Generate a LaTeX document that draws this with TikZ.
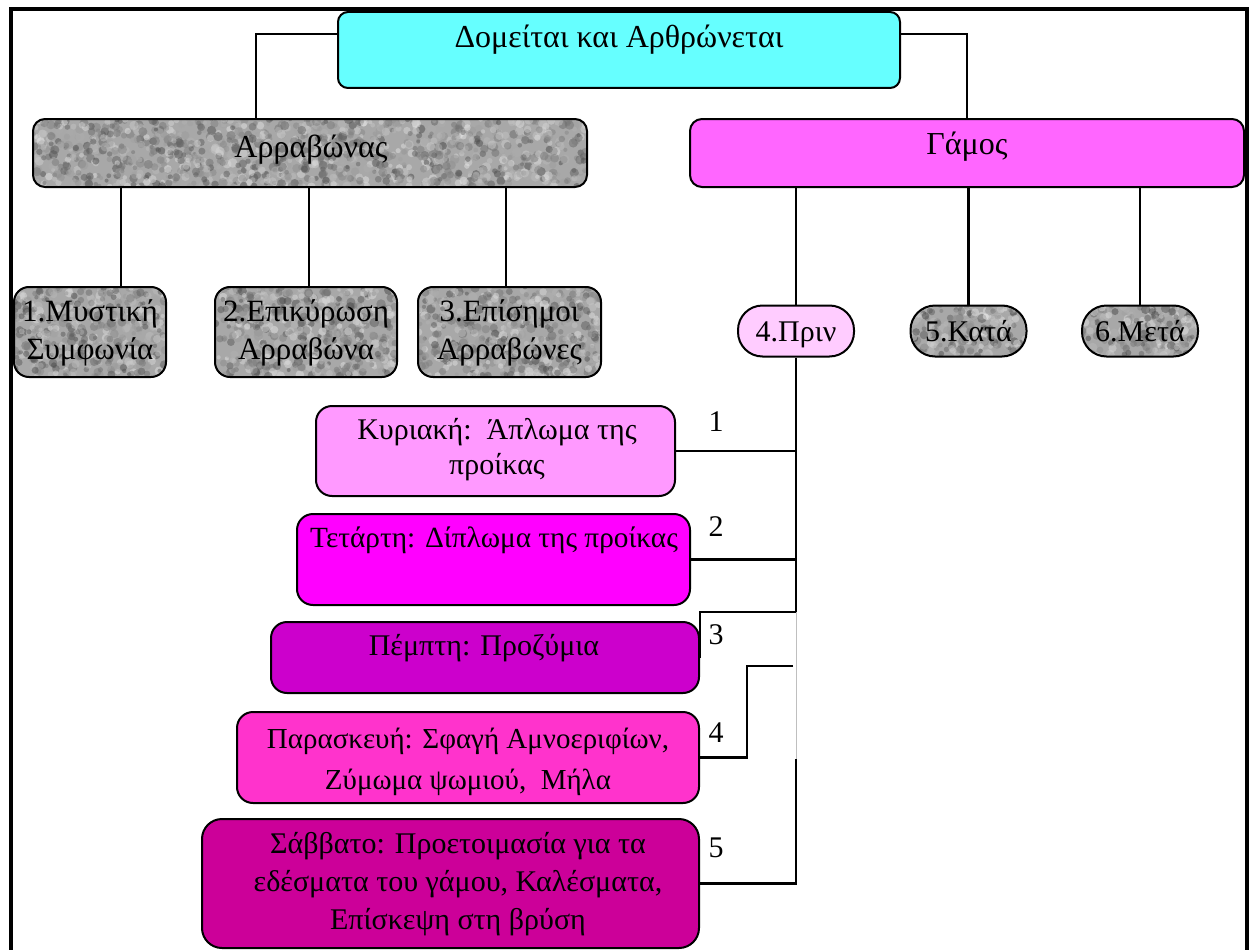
\documentclass[tikz,border=0pt]{standalone}
\usepackage{fontspec}
\setmainfont{Liberation Serif}
\usetikzlibrary{calc}

\definecolor{cyanbox}{HTML}{66FFFF}
\definecolor{gamosbox}{HTML}{FF66FF}
\definecolor{prinbox}{HTML}{FFCCFF}
\definecolor{sunbox}{HTML}{FF99FF}
\definecolor{wedbox}{HTML}{FF00FF}
\definecolor{thubox}{HTML}{CC00CC}
\definecolor{fribox}{HTML}{FF33CC}
\definecolor{satbox}{HTML}{CC0099}
\definecolor{granitebase}{HTML}{A8A8A8}

% speckled grey fill, clipped to the node outline
\newcommand\granitefill{%
  \pgfpointanchor{path picture bounding box}{south west}\pgfgetlastxy{\gxa}{\gya}%
  \pgfpointanchor{path picture bounding box}{north east}\pgfgetlastxy{\gxb}{\gyb}%
  \pgfmathtruncatemacro\gn{((\gxb-\gxa)/30)*(\gyb-\gya)}%
  \foreach \gi in {1,...,\gn}{%
    \pgfmathsetmacro\gpx{\gxa+rnd*(\gxb-\gxa)}%
    \pgfmathsetmacro\gpy{\gya+rnd*(\gyb-\gya)}%
    \pgfmathtruncatemacro\gshade{10+rnd*62}%
    \pgfmathsetmacro\grad{2+rnd*2.8}%
    \fill[black!\gshade!white, opacity=0.5] (\gpx pt,\gpy pt) circle (\grad pt);
  }%
}

\begin{document}
\begin{tikzpicture}[x=1pt,y=-1pt,
  box/.style={draw=black, line width=2pt, rounded corners=#1, inner sep=0pt},
  box/.default=14pt,
  granite/.style={fill=granitebase, path picture={\granitefill}},
  txt/.style={font=\fontsize{30}{38}\selectfont, inner sep=0pt, align=center},
  bigtxt/.style={txt, font=\fontsize{32}{38}\selectfont},
  midtxt/.style={txt, font=\fontsize{31}{38}\selectfont},
  num/.style={font=\fontsize{30}{36}\selectfont, inner sep=0pt},
  link/.style={draw=black, line width=2.7pt},
  faint/.style={draw=black!25, line width=1pt}]
\pgfmathsetseed{7}
\useasboundingbox (0,0) rectangle (1256,950);

% outer frame (open at the bottom)
\draw[line width=3.5pt] (11,960) -- (11,9) -- (1247,9) -- (1247,960);

% boxes
\node[box=10pt, fill=cyanbox, minimum width=562pt, minimum height=76pt] (top) at (619,50) {};
\node[box=12pt, granite, minimum width=554pt, minimum height=68pt] (arr) at (310,153) {};
\node[box=12pt, fill=gamosbox, minimum width=554pt, minimum height=68pt] (gam) at (967,153) {};

\node[box=15pt, granite, minimum width=152pt, minimum height=90pt] (b1) at (90,332) {};
\node[box=15pt, granite, minimum width=182pt, minimum height=90pt] (b2) at (306,332) {};
\node[box=15pt, granite, minimum width=183pt, minimum height=90pt] (b3) at (509.5,332) {};

\node[box=24.5pt, fill=prinbox, minimum width=116pt, minimum height=51pt] (p4) at (796,331) {};
\node[box=24.5pt, granite, minimum width=116pt, minimum height=51pt] (p5) at (968.5,331) {};
\node[box=24.5pt, granite, minimum width=116pt, minimum height=51pt] (p6) at (1140,331) {};

\node[box=16pt, fill=sunbox, minimum width=359pt, minimum height=90pt] (q1) at (495.5,451) {};
\node[box=16pt, fill=wedbox, minimum width=393pt, minimum height=91pt] (q2) at (493.5,559.5) {};
\node[box=16pt, fill=thubox, minimum width=428pt, minimum height=71pt] (q3) at (485,657.5) {};
\node[box=16pt, fill=fribox, minimum width=462pt, minimum height=91pt] (q4) at (468,757.5) {};
\node[box=20pt, fill=satbox, minimum width=497pt, minimum height=129pt] (q5) at (450.5,883.5) {};

% texts
\node[bigtxt, anchor=base] (tTop) at (619,48) {Δομείται και Αρθρώνεται};
\node[bigtxt, anchor=base] (tArr) at (311,157) {Αρραβώνας};
\node[bigtxt, anchor=base] (tGam) at (967,154) {Γάμος};
\node[midtxt] (tb1) at (90,333) {1.Μυστική\\Συμφωνία};
\node[midtxt] (tb2) at (306,333) {2.Επικύρωση\\Αρραβώνα};
\node[midtxt] (tb3) at (509.5,333) {3.Επίσημοι\\Αρραβώνες};
\node[txt, anchor=base] (tp4) at (796,341) {4.Πριν};
\node[txt, anchor=base] (tp5) at (968.5,341) {5.Κατά};
\node[txt, anchor=base] (tp6) at (1140,341) {6.Μετά};
\node[txt, font=\fontsize{30}{35}\selectfont] (tq1) at (497,450) {Κυριακή:\ \ Άπλωμα της\\προίκας};
\node[txt, font=\fontsize{29.3}{36}\selectfont, anchor=base] (tq2) at (494,547) {Τετάρτη: Δίπλωμα της προίκας};
\node[txt, anchor=base] (tq3) at (484,655) {Πέμπτη: Προζύμια};
\node[txt, font=\fontsize{29}{41}\selectfont] (tq4) at (468,762) {Παρασκευή: Σφαγή Αμνοεριφίων,\\Ζύμωμα ψωμιού,\ \ Μήλα};
\node[txt] (tq5) at (458,884) {Σάββατο: Προετοιμασία για τα\\εδέσματα του γάμου, Καλέσματα,\\Επίσκεψη στη βρύση};

% step numbers
\node[num] (n1) at (716,422) {1};
\node[num] (n2) at (716,527) {2};
\node[num] (n3) at (716,635) {3};
\node[num] (n4) at (716,733) {4};
\node[num] (n5) at (716,848) {5};

% helper points of the connectors
\coordinate (k1) at (121,0);
\coordinate (k2) at (309,0);
\coordinate (k3) at (506,0);
\coordinate (s3) at (796,612);
\coordinate (c4) at (793,666);
\coordinate (j4) at (747,0);
\coordinate (c5) at (796,759);

% connectors
\draw[link] ([yshift=16pt]top.west) -| ([xshift=-54pt]arr.north);
\draw[link] ([yshift=16pt]top.east) -| (gam.north);
\draw[link] (arr.south -| k1) -- (b1.north -| k1);
\draw[link] (arr.south -| k2) -- (b2.north -| k2);
\draw[link] (arr.south -| k3) -- (b3.north -| k3);
\draw[link] (gam.south -| p4.north) -- (p4.north);
\draw[link] (gam.south -| p5.north) -- (p5.north);
\draw[link] (gam.south -| p6.north) -- (p6.north);
\draw[link] (p4.south) -- (p4.south |- s3) -- (q3.east |- s3) -- (q3.east);
\draw[link] (q1.east) -- (q1.east -| p4.south);
\draw[link] (q2.east) -- (q2.east -| p4.south);
\draw[link] (c4) -- (c4 -| j4) -- (q4.east -| j4) -- (q4.east);
\draw[link] (c5) |- (q5.east);
\draw[faint] (s3) -- (c5);
\end{tikzpicture}
\end{document}
